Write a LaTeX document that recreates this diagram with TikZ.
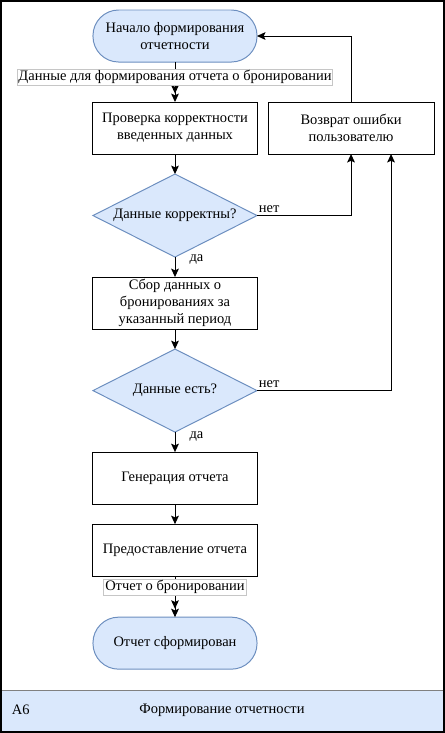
\documentclass[tikz,border=0pt]{standalone}
\usepackage{fontspec}
\setmainfont{Liberation Serif}
\usepackage{xcolor}
\usetikzlibrary{arrows.meta,positioning,shapes.geometric}
\definecolor{fillblue}{HTML}{DAE8FC}
\definecolor{lineblue}{HTML}{6C8EBF}

\begin{document}
\begin{tikzpicture}[
  x=0.025cm, y=0.025cm,
  node distance=0.5cm and 0.275cm,
  every node/.style={font=\fontsize{10.3}{12.2}\selectfont},
  term/.style={draw=lineblue, fill=fillblue, line width=0.7pt, outer sep=0pt, rounded corners=0.64cm, align=center, minimum width=4.1cm, minimum height=1.3cm},
  proc/.style={draw, line width=0.7pt, outer sep=0pt, align=center, inner sep=1pt, minimum width=4.1cm, minimum height=1.3cm},
  check/.style={draw=lineblue, fill=fillblue, line width=0.7pt, outer sep=0pt, diamond, aspect=2, inner sep=0pt, minimum width=4.1cm, minimum height=2.075cm},
  flowlabel/.style={draw=gray!45, fill=white, inner sep=1pt},
  answer/.style={inner sep=1pt},
  edge/.style={-{Stealth[length=6pt,width=5.5pt,inset=1.2pt]}, line width=0.7pt},
  edgetwo/.style={-{Stealth[length=6pt,width=5.5pt,inset=1.2pt]Stealth[length=6pt,width=5.5pt,inset=1.2pt]}, line width=0.7pt}
]
\useasboundingbox (0,0) rectangle (445,-733);
\draw[draw=gray, fill=fillblue, line width=0.7pt] (1,-690) rectangle (444,-732);
\draw[line width=0.9pt] (1,-1) rectangle (444,-732);
\node[anchor=west] (code) at (7,-710) {А6};
\node (title) at (222,-710) {Формирование отчетности};

\node[term] (start) at (175,-36) {Начало формирования\\отчетности};
\node[proc, below=1cm of start] (verify) {Проверка корректности\\введенных данных};
\node[proc, right=of verify, minimum width=4.15cm] (errback) {Возврат ошибки\\пользователю};
\node[check, below=of verify] (valid) {Данные корректны?};
\node[proc, below=of valid] (collect) {Сбор данных о\\бронированиях за\\указанный период};
\node[check, below=of collect] (exists) {Данные есть?};
\node[proc, below=of exists] (gen) {Генерация отчета};
\node[proc, below=of gen] (provide) {Предоставление отчета};
\node[term, below=1.025cm of provide] (finish) {Отчет сформирован};

\draw[edgetwo] (start) -- node[flowlabel, pos=0.38]{Данные для формирования отчета о бронировании} (verify);
\draw[edge] (verify) -- (valid);
\draw[edge] (valid) -- node[answer, pos=0, anchor=west, xshift=9pt, yshift=-2pt]{да} (collect);
\draw[edge] (valid.east) -| node[answer, pos=0, anchor=south west, yshift=1pt]{нет} (errback.south);
\draw[edge] (collect) -- (exists);
\draw[edge] (exists.east) -| node[answer, pos=0, anchor=south west, yshift=1pt]{нет} ([xshift=1cm]errback.south);
\draw[edge] (exists) -- node[answer, pos=0, anchor=west, xshift=9pt, yshift=-3pt]{да} (gen);
\draw[edge] (gen) -- (provide);
\draw[edgetwo] (provide) -- node[flowlabel, pos=0.27]{Отчет о бронировании} (finish);
\draw[edge] (errback.north) |- (start.east);
\end{tikzpicture}
\end{document}
